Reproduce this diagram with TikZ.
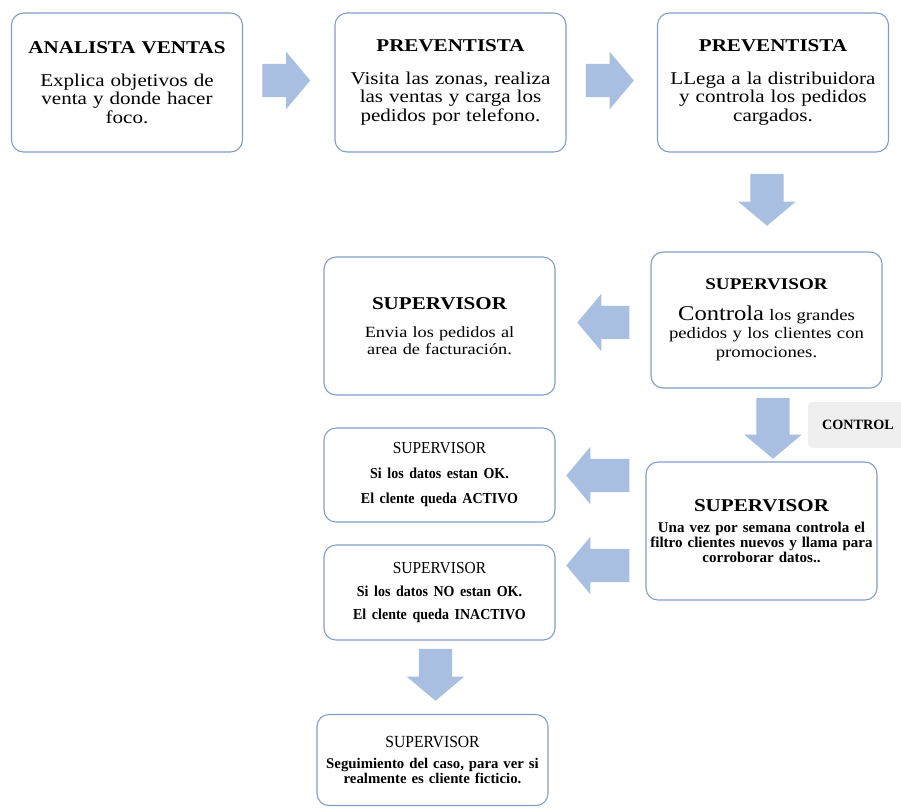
\documentclass[tikz,border=0pt]{standalone}
\usepackage{fontspec}
\setmainfont{Liberation Serif}[FakeStretch=1.17]
\newfontfamily\estrecha{Liberation Serif}
\newfontfamily\condensada{Liberation Serif}[FakeStretch=0.92]
\usetikzlibrary{shapes.arrows, calc}
\definecolor{bordecaja}{RGB}{130,158,200}
\definecolor{flechaazul}{RGB}{168,191,225}
\definecolor{grisctrl}{RGB}{239,239,239}

\begin{document}
\begin{tikzpicture}[x=1pt, y=-1pt,
    caja/.style={draw=bordecaja, line width=1.1pt, fill=white, rounded corners=12pt,
                 minimum width=231pt, inner sep=2pt, align=center, text width=226pt},
    flecha/.style={single arrow, fill=flechaazul, draw=none, inner xsep=0pt, inner ysep=16.5pt,
                   single arrow head extend=12pt, single arrow tip angle=100, anchor=tail}]
        \useasboundingbox (0,0) rectangle (901,807);
        \clip (0,0) rectangle (901,807);

        % Draw boxes
        \node[caja, minimum height=139pt, font=\fontsize{18}{18.5}\selectfont] (analista) at (127,82.5)
            {{\bfseries ANALISTA VENTAS}\\[14pt] Explica objetivos de\\ venta y donde hacer\\ foco.};
        \node[caja, minimum height=139pt, font=\fontsize{18}{18.5}\selectfont] (prev1) at (450.5,82.5)
            {{\bfseries PREVENTISTA}\\[14pt] Visita las zonas, realiza\\ las ventas y carga los\\ pedidos por telefono.};
        \node[caja, minimum height=139pt, font=\fontsize{18}{18.5}\selectfont] (prev2) at (773,82.5)
            {{\bfseries PREVENTISTA}\\[14pt] LLega a la distribuidora\\ y controla los pedidos\\ cargados.};
        \node[caja, minimum height=136pt, font=\fontsize{16}{18.5}\selectfont] (supctrl) at (766.5,320)
            {{\bfseries\fontsize{16.3}{18.5}\selectfont SUPERVISOR}\\[12pt]
             {\fontsize{21}{18.5}\selectfont Controla} los grandes\\ pedidos y los clientes con\\ promociones.};
        \node[caja, minimum height=138pt, font=\fontsize{15.6}{17}\selectfont] (supenvia) at (439.5,326)
            {{\bfseries\fontsize{18}{17}\selectfont SUPERVISOR}\\[11pt] Envia los pedidos al\\ area de facturación.};
        \node[caja, minimum height=138pt, font=\estrecha\bfseries\fontsize{15}{13}\selectfont] (supsemana) at (761.5,531)
            {{\rmfamily\fontsize{18}{13}\selectfont SUPERVISOR}\\[8pt]
             Una vez por semana controla el\\ filtro clientes nuevos y llama para\\ corroborar datos..};
        \node[caja, minimum height=94pt, font=\condensada\fontsize{16.8}{25}\selectfont] (supok) at (439.5,475)
            {SUPERVISOR\\ \bfseries\fontsize{15.2}{25}\selectfont Si los datos estan OK.\\ El clente queda ACTIVO};
        \node[caja, minimum height=95pt, font=\condensada\fontsize{16.8}{23}\selectfont] (supnook) at (439.5,592.5)
            {SUPERVISOR\\ \bfseries\fontsize{15.2}{23}\selectfont Si los datos NO estan OK.\\ El clente queda INACTIVO};
        \node[caja, minimum height=91pt, font=\estrecha\bfseries\fontsize{14.8}{13}\selectfont] (supseg) at (432.5,760)
            {{\condensada\mdseries\fontsize{17}{13}\selectfont SUPERVISOR}\\[8pt]
             Seguimiento del caso, para ver si\\ realmente es cliente ficticio.};
        \node[fill=grisctrl, rounded corners=5pt, minimum width=100pt, minimum height=46pt,
              font=\estrecha\bfseries\fontsize{14.2}{15}\selectfont] (control) at (858,425) {CONTROL};

        % Draw block arrows
        \node[flecha, minimum height=48pt] (f1) at ($(analista.east)+(19,-2)$) {};
        \node[flecha, minimum height=48pt] (f2) at ($(prev1.east)+(19,-2)$) {};
        \node[flecha, minimum height=52pt, rotate=-90] (f3) at ($(prev2.south)+(-6,21)$) {};
        \node[flecha, minimum height=52pt, rotate=180] (f4) at ($(supctrl.west)+(-21,2.5)$) {};
        \node[flecha, minimum height=61pt, rotate=-90] (f5) at ($(supctrl.south)+(6.5,9)$) {};
        \node[flecha, minimum height=63pt, rotate=180] (f6) at ($(supsemana.west |- supok.east)+(-16,0.5)$) {};
        \node[flecha, minimum height=63pt, rotate=180] (f7) at ($(supsemana.west)+(-16,34.5)$) {};
        \node[flecha, minimum height=52pt, rotate=-90] (f8) at ($(supnook.south)+(-4,8)$) {};
    \end{tikzpicture}
\end{document}
